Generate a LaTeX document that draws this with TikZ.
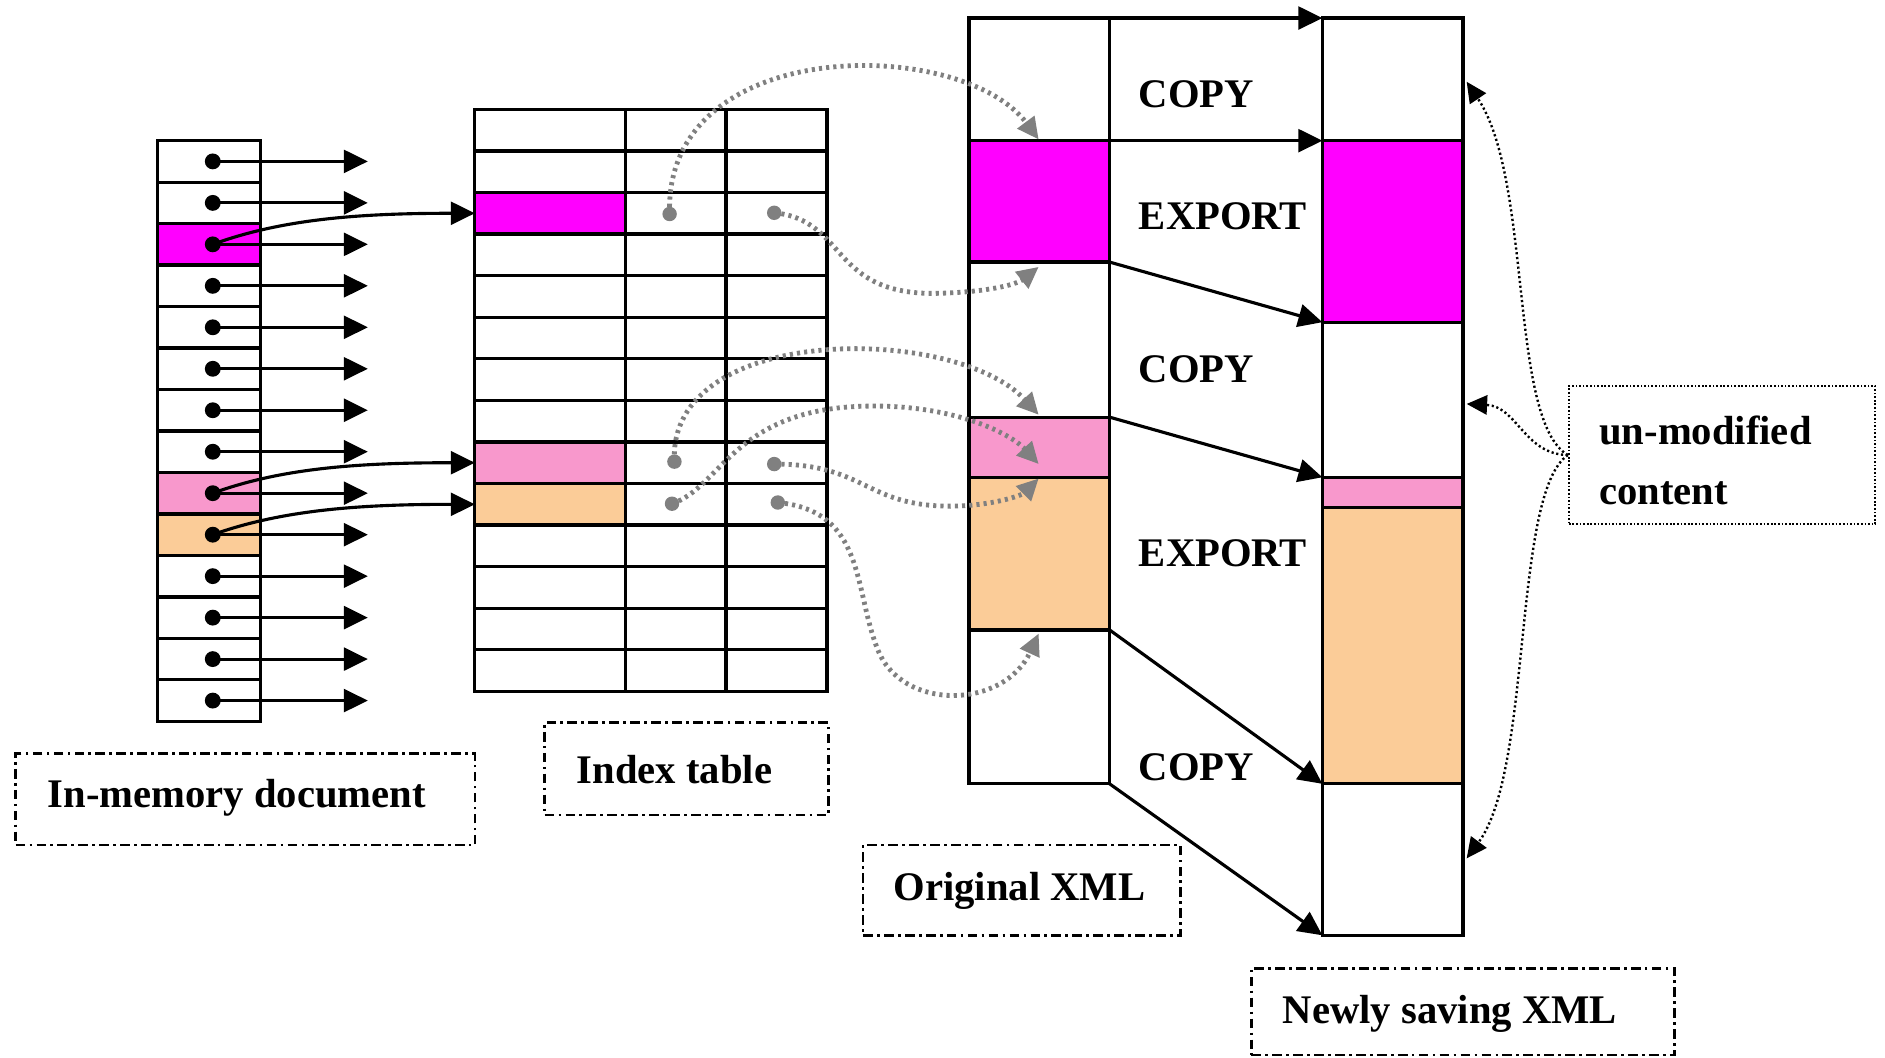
\documentclass[tikz,border=0pt]{standalone}
\usepackage{fontspec}
\setmainfont{Liberation Serif}
\usetikzlibrary{arrows.meta}
\definecolor{magc}{RGB}{255,0,255}
\definecolor{pinkc}{RGB}{248,152,204}
\definecolor{peachc}{RGB}{251,204,152}
\definecolor{dotgray}{RGB}{128,128,128}
\begin{document}
\begin{tikzpicture}[x=0.5pt,y=-0.5pt,
  cell/.style={draw=black,line width=1.35pt},
  bigarrow/.style={-{Triangle[length=10pt,width=9.5pt]},line width=1.3pt},
  grayarrow/.style={-{Triangle[length=9pt,width=8.5pt]},draw=dotgray,fill=none,line width=2pt,dash pattern=on 1.3pt off 1.7pt},
  blkdotarrow/.style={-{Triangle[length=8.5pt,width=8pt]},line width=1pt,dash pattern=on 0.9pt off 1.1pt},
  ddbox/.style={draw=black,line width=1.1pt,dash pattern=on 4pt off 1.8pt on 1.1pt off 1.8pt,inner sep=0pt},
  dotbox/.style={draw=black,line width=0.8pt,dash pattern=on 0.7pt off 0.8pt,inner sep=0pt},
  lbl/.style={font=\fontsize{16.9}{20}\selectfont\bfseries,inner sep=0pt},
  gdot/.style={fill=dotgray},
]
\useasboundingbox (0,0) rectangle (1568,880);
\fill[white] (0,0) rectangle (1568,880);

% ---------- In-memory document ----------
\fill[magc] (131,186) rectangle (217,220.5);
\fill[pinkc] (131,393) rectangle (217,427.5);
\fill[peachc] (131,427.5) rectangle (217,462);
\draw[cell] (131,117) rectangle (217,600);
\foreach \i in {1,...,13} \draw[cell] (131,{117+\i*34.5}) -- (217,{117+\i*34.5});
\foreach \i in {0,...,13} {
  \coordinate (md\i) at (177,{117+(\i+0.5)*34.5});
  \coordinate (mt\i) at (306,{117+(\i+0.5)*34.5});
}
\foreach \i in {0,...,13} {
  \fill (md\i) circle[radius=3.3pt];
  \draw[bigarrow] (md\i) -- (mt\i);
}

% ---------- Index table ----------
\fill[magc] (395,160.1) rectangle (520,194.7);
\fill[pinkc] (395,367.6) rectangle (520,402.1);
\fill[peachc] (395,402.1) rectangle (520,436.7);
\draw[cell] (395,91) rectangle (688,575);
\draw[cell] (520,91) -- (520,575);
\draw[cell] (604,91) -- (604,575);
\foreach \i in {1,...,13} \draw[cell] (395,{91+\i*34.57}) -- (688,{91+\i*34.57});
\coordinate (it2) at (395,177.4);
\coordinate (it8) at (395,384.9);
\coordinate (it9) at (395,419.5);
\draw[bigarrow] (md2) .. controls (235,182) and (300,177.4) .. (it2);
\draw[bigarrow] (md8) .. controls (235,389) and (300,384.9) .. (it8);
\draw[bigarrow] (md9) .. controls (235,424) and (300,419.5) .. (it9);

\coordinate (g1) at (557,178);
\coordinate (g2) at (644,177);
\coordinate (g3) at (561,384);
\coordinate (g4) at (644,386);
\coordinate (g5) at (559,419);
\coordinate (g6) at (647,418);
\foreach \g in {g1,g2,g3,g4,g5,g6} \fill[gdot] (\g) circle[radius=3pt];

% ---------- Original XML ----------
\fill[magc] (806,117) rectangle (923,218);
\fill[pinkc] (806,347) rectangle (923,397);
\fill[peachc] (806,397) rectangle (923,524);
\draw[cell] (806,15) rectangle (923,652);
\foreach \y in {117,218,347,397,524} \draw[cell] (806,\y) -- (923,\y);

% ---------- Newly saving XML ----------
\fill[magc] (1100,117) rectangle (1217,268);
\fill[pinkc] (1100,397) rectangle (1217,422);
\fill[peachc] (1100,422) rectangle (1217,652);
\draw[cell] (1100,15) rectangle (1217,778);
\foreach \y in {117,268,397,422,652} \draw[cell] (1100,\y) -- (1217,\y);

% ---------- COPY / EXPORT arrows ----------
\coordinate (o0) at (923,15);   \coordinate (n0) at (1100,15);
\coordinate (o1) at (923,117);  \coordinate (n1) at (1100,117);
\coordinate (o2) at (923,218);  \coordinate (n2) at (1100,268);
\coordinate (o3) at (923,347);  \coordinate (n3) at (1100,397);
\coordinate (o4) at (923,524);  \coordinate (n4) at (1100,652);
\coordinate (o5) at (923,652);  \coordinate (n5) at (1100,778);
\foreach \k in {0,...,5} \draw[bigarrow] (o\k) -- (n\k);

\node[lbl,anchor=west] (c1) at (947,78) {COPY};
\node[lbl,anchor=west] (e1) at (947,180) {EXPORT};
\node[lbl,anchor=west] (c2) at (947,307) {COPY};
\node[lbl,anchor=west] (e2) at (947,460) {EXPORT};
\node[lbl,anchor=west] (c3) at (947,638) {COPY};

% ---------- gray dotted links ----------
\coordinate (t1) at (864,116);
\coordinate (t2) at (864,222);
\coordinate (t3) at (864,345);
\coordinate (t4) at (864,386);
\coordinate (t5) at (864,398);
\coordinate (t6) at (864,527);
\draw[grayarrow] (g1) .. controls (552,28) and (800,30) .. (t1);
\draw[grayarrow] (g2) .. controls (705,183) and (690,246) .. (780,244) .. controls (820,243) and (845,237) .. (t2);
\draw[grayarrow] (g3) .. controls (555,268) and (795,270) .. (t3);
\draw[grayarrow] (g5) .. controls (600,405) and (610,342) .. (715,338) .. controls (790,335) and (840,360) .. (t4);
\draw[grayarrow] (g4) .. controls (720,386) and (720,421) .. (790,421) .. controls (825,421) and (850,412) .. (t5);
\draw[grayarrow] (g6) .. controls (720,425) and (710,490) .. (730,540) .. controls (750,592) and (835,590) .. (t6);

% ---------- un-modified content ----------
\node[dotbox,minimum width=127.5pt,minimum height=57.5pt] (um) at (1432.5,378.5) {};
\node[lbl,anchor=base west] (umt1) at (1330,370) {un-modified};
\node[lbl,anchor=base west] (umt2) at (1330,420) {content};
\coordinate (u1) at (1220,68);
\coordinate (u2) at (1220,336);
\coordinate (u3) at (1220,714);
\draw[blkdotarrow] (um.west) .. controls (1255,350) and (1275,150) .. (u1);
\draw[blkdotarrow] (um.west) .. controls (1268,378) and (1262,338) .. (u2);
\draw[blkdotarrow] (um.west) .. controls (1258,410) and (1275,640) .. (u3);

% ---------- caption boxes ----------
\node[ddbox,minimum width=191pt,minimum height=38pt] (bmem) at (204,665) {};
\node[lbl] (tmem) at (197,664) {In-memory document};
\node[ddbox,minimum width=118pt,minimum height=38.5pt] (bidx) at (571,639.5) {};
\node[lbl] (tidx) at (561,640) {Index table};
\node[ddbox,minimum width=132pt,minimum height=37.5pt] (borig) at (850,740.5) {};
\node[lbl] (torig) at (848,741) {Original XML};
\node[ddbox,minimum width=176pt,minimum height=36pt] (bnew) at (1217,841.5) {};
\node[lbl] (tnew) at (1206,843) {Newly saving XML};
\end{tikzpicture}
\end{document}
